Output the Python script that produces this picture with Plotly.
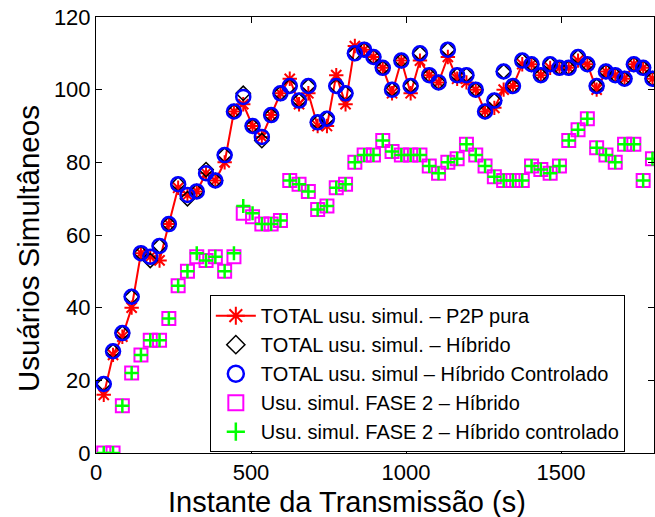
import plotly.graph_objects as go

# Sampling instants (s)
instantes = [25, 55, 85, 115, 145, 175, 205, 235, 265, 295,
             325, 355, 385, 415, 445, 475, 505, 535, 565, 595,
             625, 655, 685, 715, 745, 775, 805, 835, 865, 895,
             925, 955, 985, 1015, 1045, 1075, 1105, 1135, 1165, 1195,
             1225, 1255, 1285, 1315, 1345, 1375, 1405, 1435, 1465, 1495,
             1525, 1555, 1585, 1615, 1645, 1675, 1705, 1735, 1765, 1795]

# Total simultaneous users - pure P2P
total_p2p = [16, 27, 32, 40, 55, 54, 53, 63, 73, 71,
             72, 77, 75, 80, 94, 96, 90, 87, 93, 99,
             103, 96, 99, 90, 90, 104, 96, 112, 111, 109,
             106, 99, 108, 99, 108, 104, 102, 109, 103, 102,
             100, 94, 95, 100, 101, 107, 107, 104, 106, 106,
             106, 108, 107, 100, 105, 104, 103, 107, 106, 103]

# Total simultaneous users - hybrid
total_hibrido = [19, 28, 33, 43, 55, 53, 57, 63, 74, 70,
                 72, 78, 75, 82, 94, 99, 90, 86, 93, 99,
                 101, 97, 101, 91, 92, 101, 99, 110, 111, 109,
                 106, 100, 108, 101, 110, 104, 102, 111, 104, 104,
                 100, 94, 97, 105, 101, 108, 107, 104, 107, 106,
                 106, 109, 107, 101, 105, 104, 103, 107, 106, 103]

# Total simultaneous users - controlled hybrid
total_controlado = [19, 28, 33, 43, 55, 54, 57, 63, 74, 71,
                    72, 77, 75, 82, 94, 98, 90, 87, 93, 99,
                    101, 97, 101, 91, 92, 101, 99, 110, 111, 109,
                    106, 100, 108, 101, 110, 104, 102, 111, 104, 104,
                    100, 94, 97, 105, 101, 108, 107, 104, 107, 106,
                    106, 109, 107, 101, 105, 104, 103, 107, 106, 103]

# Phase 2 simultaneous users - hybrid
fase2_hibrido = [0, 0, 13, 22, 27, 31, 31, 37, 46, 50,
                 54, 53, 54, 50, 54, 66, 65, 63, 63, 64,
                 75, 74, 72, 67, 68, 73, 74, 80, 82, 82,
                 86, 83, 82, 82, 82, 79, 77, 80, 81, 85,
                 82, 79, 76, 75, 75, 75, 79, 78, 77, 79,
                 86, 89, 92, 84, 82, 80, 85, 85, 75, 81]

# Phase 2 simultaneous users - controlled hybrid
fase2_controlado = [0, 0, 13, 22, 27, 31, 31, 37, 46, 50,
                    55, 53, 54, 50, 55, 68, 66, 63, 63, 64,
                    75, 74, 72, 67, 68, 73, 74, 80, 82, 82,
                    86, 83, 82, 82, 82, 79, 77, 80, 81, 85,
                    82, 79, 76, 75, 75, 75, 79, 78, 77, 79,
                    86, 89, 92, 84, 82, 80, 85, 85, 75, 81]

nomes = ["TOTAL usu. simul. – P2P pura",
         "TOTAL usu. simul. – Híbrido",
         "TOTAL usu. simul – Híbrido Controlado",
         "Usu. simul. FASE 2 – Híbrido",
         "Usu. simul. FASE 2 – Híbrido controlado"]

x_ticks = [0, 500, 1000, 1500]
y_ticks = [0, 20, 40, 60, 80, 100, 120]

FONT = "Liberation Sans, Arial, Helvetica, sans-serif"

# (values, mode, marker symbol, colour, plot size, legend size, line width)
series = [
    (total_p2p, "lines+markers", "asterisk-open", "#ff0000", 12, 15, 2),
    (total_hibrido, "markers", "diamond-open", "#000000", 11, 14, 1.5),
    (total_controlado, "markers", "circle-open", "#0000ff", 14, 16, 2.5),
    (fase2_hibrido, "markers", "square-open", "#ff00ff", 13, 15, 2),
    (fase2_controlado, "markers", "cross-thin", "#00ff00", 10, 13, 2.5),
]

fig = go.Figure()

for nome, (vals, mode, sym, cor, tam, tam_leg, lw) in zip(nomes, series):
    linha = dict(color=cor, width=2)
    fig.add_trace(go.Scatter(
        x=instantes, y=vals, mode=mode, name=nome, showlegend=False,
        line=linha,
        marker=dict(symbol=sym, size=tam, color=cor,
                    line=dict(color=cor, width=lw)),
    ))
    # legend entry with slightly larger symbols
    fig.add_trace(go.Scatter(
        x=[None], y=[None], mode=mode, name=nome, showlegend=True,
        line=linha,
        marker=dict(symbol=sym, size=tam_leg, color=cor,
                    line=dict(color=cor, width=lw)),
    ))

axis_common = dict(
    showline=True, linecolor="#000000", linewidth=1, mirror="ticks",
    ticks="inside", ticklen=6, tickwidth=1, tickcolor="#000000",
    showgrid=False, zeroline=False,
    tickfont=dict(family=FONT, size=22, color="#000000"),
)

fig.update_layout(
    width=655, height=517,
    margin=dict(l=96, r=1, t=17, b=64, autoexpand=False),
    paper_bgcolor="#ffffff", plot_bgcolor="#ffffff",
    font=dict(family=FONT, color="#000000"),
    xaxis=dict(range=[0, 1800], tickvals=x_ticks, **axis_common),
    yaxis=dict(range=[0, 120], tickvals=y_ticks, **axis_common),
    legend=dict(
        x=0.204, y=0.362, xanchor="left", yanchor="top",
        bgcolor="#ffffff", bordercolor="#000000", borderwidth=1,
        font=dict(family=FONT, size=20, color="#000000"),
        itemwidth=40, tracegroupgap=0,
    ),
    showlegend=True,
    annotations=[
        dict(text="Instante da Transmissão (s)", xref="paper", yref="paper",
             x=0.45, y=-0.113, xanchor="center", yanchor="middle",
             showarrow=False, font=dict(family=FONT, size=29, color="#000000")),
        dict(text="Usuários Simultâneos", xref="paper", yref="paper",
             x=-0.122, y=0.47, xanchor="center", yanchor="middle",
             textangle=-90, showarrow=False,
             font=dict(family=FONT, size=29.5, color="#000000")),
    ],
)

fig.write_html("out.html")
